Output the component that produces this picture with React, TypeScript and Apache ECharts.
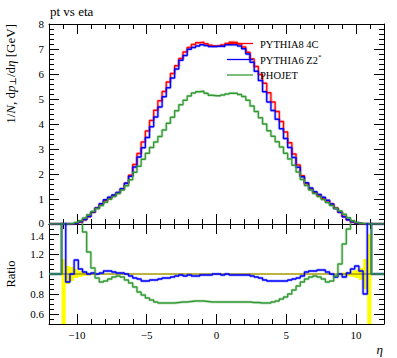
import React, { useEffect, useRef } from "react";
import * as echarts from "echarts";

const FONT = '"Liberation Serif", "DejaVu Serif", serif';

const TITLE = "pt vs eta";
const SERIES_NAMES = ["PYTHIA8 4C", "PYTHIA6 Z2", "PHOJET"];
const COLORS = ["#ff0000", "#0000ff", "#339933"];
const X_MAJOR_TICKS = [-10, -5, 0, 5, 10];
const RATIO_TICKS = [0.6, 0.8, 1, 1.2, 1.4];

// bin edges: outer empty bins, then 0.3 wide bins from -11.1 to 11.1
const BIN_EDGES = [
  -12,
  ...Array.from({ length: 75 }, (_, i) => Math.round((-11.1 + 0.3 * i) * 100) / 100),
  12,
];

const PYTHIA8 = [
  0, 0, 0, 0.01, 0.03, 0.08, 0.17, 0.3, 0.47, 0.64, 0.8, 0.94, 1.04, 1.14, 1.25, 1.4, 1.63, 1.95,
  2.38, 2.82, 3.28, 3.72, 4.14, 4.55, 4.93, 5.3, 5.68, 6.02, 6.33, 6.62, 6.88,
  7.06, 7.18, 7.25, 7.27, 7.21, 7.15, 7.12, 7.13, 7.16, 7.22, 7.27, 7.26, 7.2, 7.08,
  6.87, 6.6, 6.3, 5.98, 5.63, 5.25, 4.88, 4.5, 4.1, 3.68, 3.25, 2.8, 2.36,
  1.93, 1.62, 1.4, 1.25, 1.13, 1.03, 0.93, 0.8, 0.64, 0.47, 0.3, 0.17, 0.08, 0.03, 0.01, 0, 0, 0,
];

const PYTHIA6 = [
  0, 0, 0, 0.01, 0.034, 0.084, 0.173, 0.3, 0.475, 0.64, 0.81, 0.97, 1.07, 1.16, 1.26, 1.41, 1.63, 1.91,
  2.28, 2.68, 3.05, 3.46, 3.89, 4.28, 4.68, 5.09, 5.45, 5.84, 6.2, 6.55, 6.74,
  6.99, 7.06, 7.12, 7.17, 7.14, 7.1, 7.1, 7.12, 7.1, 7.17, 7.18, 7.17, 7.12, 7.01,
  6.8, 6.47, 6.11, 5.74, 5.29, 4.88, 4.54, 4.19, 3.81, 3.42, 3.06, 2.66, 2.27,
  1.89, 1.65, 1.44, 1.29, 1.18, 1.07, 0.95, 0.8, 0.62, 0.47, 0.29, 0.17, 0.084, 0.032, 0.01, 0, 0, 0,
];

const PHOJET = [
  0, 0, 0, 0.02, 0.06, 0.13, 0.24, 0.37, 0.5, 0.62, 0.74, 0.87, 0.99, 1.1, 1.22, 1.36, 1.53, 1.77,
  2.07, 2.31, 2.59, 2.83, 3.06, 3.28, 3.5, 3.76, 4.03, 4.27, 4.53, 4.77, 4.95,
  5.12, 5.24, 5.29, 5.31, 5.23, 5.15, 5.13, 5.13, 5.16, 5.2, 5.23, 5.23, 5.18, 5.1,
  4.95, 4.72, 4.5, 4.25, 4.0, 3.73, 3.51, 3.29, 3.08, 2.83, 2.6, 2.35, 2.08,
  1.78, 1.54, 1.36, 1.22, 1.1, 0.98, 0.86, 0.74, 0.63, 0.52, 0.39, 0.25, 0.13, 0.06, 0.02, 0, 0, 0,
];

const RATIO_PYTHIA6 = [
  1, 1.6, 0.92, 1.0, 1.14, 1.05, 1.02, 1.0, 1.01, 1.0, 1.01, 1.03, 1.03, 1.02, 1.01, 1.01, 1.0, 0.98,
  0.96, 0.95, 0.93, 0.93, 0.94, 0.94, 0.95, 0.96, 0.96, 0.97, 0.98, 0.99, 0.98,
  0.99, 0.98, 0.98, 0.99, 0.99, 0.99, 1.0, 1.0, 0.99, 1.0, 0.99, 0.99, 0.99, 0.99,
  0.99, 0.98, 0.97, 0.96, 0.94, 0.93, 0.93, 0.93, 0.93, 0.93, 0.94, 0.95, 0.96,
  0.98, 1.02, 1.03, 1.03, 1.04, 1.04, 1.02, 1.0, 0.97, 1.0, 0.97, 1.01, 1.05, 1.08, 1.03, 0.8, 1.6, 1,
];

const RATIO_PHOJET = [
  1, 1.6, 1.6, 1.6, 1.6, 1.6, 1.42, 1.22, 1.06, 0.96, 0.92, 0.93, 0.95, 0.97, 0.98, 0.97, 0.94, 0.91,
  0.87, 0.82, 0.79, 0.76, 0.74, 0.72, 0.71, 0.71, 0.71, 0.71, 0.715, 0.72, 0.72,
  0.725, 0.73, 0.73, 0.73, 0.725, 0.72, 0.72, 0.72, 0.72, 0.72, 0.72, 0.72, 0.72, 0.72,
  0.72, 0.715, 0.715, 0.71, 0.71, 0.71, 0.72, 0.73, 0.75, 0.77, 0.8, 0.84, 0.88,
  0.92, 0.95, 0.97, 0.98, 0.97, 0.95, 0.92, 0.93, 0.98, 1.1, 1.3, 1.45, 1.6, 1.6, 1.6, 1.6, 1.6, 1,
];

// reference uncertainty band in the ratio panel: [eta from, eta to, low, high]
const RATIO_BAND = [
  [-11.1, -10.8, 0.5, 1.15],
  [-10.8, -10.5, 0.9, 1.08],
  [-10.5, -10.2, 0.93, 1.07],
  [-10.2, -9.9, 0.96, 1.05],
  [-9.9, -9.6, 0.97, 1.03],
  [-9.6, -9.3, 0.98, 1.02],
  [-9.3, -9.0, 0.985, 1.015],
  [-9.0, -8.7, 0.99, 1.01],
  [-8.7, 8.7, 0.996, 1.004],
  [8.7, 9.0, 0.99, 1.01],
  [9.0, 9.3, 0.985, 1.015],
  [9.3, 9.6, 0.98, 1.02],
  [9.6, 9.9, 0.97, 1.03],
  [9.9, 10.2, 0.96, 1.04],
  [10.2, 10.5, 0.94, 1.06],
  [10.5, 10.8, 0.85, 1.15],
  [10.8, 11.1, 0.5, 1.4],
];

function steps(vals: number[]) {
  const pts = vals.map((v, i) => [BIN_EDGES[i], v]);
  pts.push([BIN_EDGES[BIN_EDGES.length - 1], vals[vals.length - 1]]);
  return pts;
}

const fmtX = (v: number) => (v < 0 ? "\u2212" + Math.abs(v) : String(v));

function xAx(grid: number, pos: string, long: boolean, line: boolean, labels: boolean) {
  return {
    type: "value",
    gridIndex: grid,
    position: pos,
    min: -12,
    max: 12,
    ...(long ? {} : { interval: 1 }),
    axisLine: { show: line, onZero: false, lineStyle: { color: "#000", width: 1 } },
    axisTick: long
      ? { show: true, inside: true, length: 10, customValues: X_MAJOR_TICKS, lineStyle: { color: "#000", width: 1 } }
      : { show: true, inside: true, length: 5, lineStyle: { color: "#000", width: 1 } },
    axisLabel: labels
      ? { show: true, customValues: X_MAJOR_TICKS, formatter: fmtX, color: "#000", fontSize: 11, fontFamily: FONT, margin: 6, lineHeight: 10 }
      : { show: false },
    splitLine: { show: false },
  };
}

function yMain(pos: string, labels: boolean) {
  return {
    type: "value",
    gridIndex: 0,
    position: pos,
    min: 0,
    max: 8,
    interval: 1,
    axisLine: { show: true, onZero: false, lineStyle: { color: "#000", width: 1 } },
    axisTick: { show: true, inside: true, length: 10, lineStyle: { color: "#000", width: 1 } },
    minorTick: { show: true, splitNumber: 5, length: 5, lineStyle: { color: "#000", width: 1 } },
    axisLabel: labels
      ? {
          show: true,
          color: "#000",
          fontSize: 11,
          fontFamily: FONT,
          margin: 5,
          lineHeight: 9,
          showMinLabel: true,
          showMaxLabel: true,
          formatter: (v: number) => (v === 0 ? "{z|0}" : String(v)),
          rich: { z: { fontSize: 11, fontFamily: FONT, color: "#000", lineHeight: 9, padding: [0, 0, 3, 0] } },
        }
      : { show: false },
    splitLine: { show: false },
    minorSplitLine: { show: false },
  };
}

function yRatio(pos: string, long: boolean, labels: boolean) {
  return {
    type: "value",
    gridIndex: 1,
    position: pos,
    min: 0.5,
    max: 1.5,
    ...(long ? {} : { interval: 0.05 }),
    axisLine: { show: !long, onZero: false, lineStyle: { color: "#000", width: 1 } },
    axisTick: long
      ? { show: true, inside: true, length: 10, customValues: RATIO_TICKS, lineStyle: { color: "#000", width: 1 } }
      : { show: true, inside: true, length: 5, lineStyle: { color: "#000", width: 1 } },
    axisLabel: labels
      ? {
          show: true,
          customValues: RATIO_TICKS,
          formatter: (v: number) => (v === 1.4 ? "{t|1.4}" : String(v)),
          rich: { t: { fontSize: 11, fontFamily: FONT, color: "#000", lineHeight: 9, padding: [3, 0, 0, 0] } },
          color: "#000",
          fontSize: 11,
          fontFamily: FONT,
          margin: 5,
          lineHeight: 9,
        }
      : { show: false },
    splitLine: { show: false },
  };
}

function stepLine(name: string, vals: number[], color: string, xi: number, yi: number, band: boolean) {
  return {
    type: "line",
    name,
    xAxisIndex: xi,
    yAxisIndex: yi,
    data: steps(vals),
    step: "end",
    symbol: "none",
    showSymbol: false,
    silent: true,
    clip: true,
    lineStyle: band ? { color, width: 3, opacity: 0.25 } : { color, width: 1.3 },
    z: band ? 2 : 3,
  };
}

export default function App() {
  const ref = useRef<HTMLDivElement>(null);

  useEffect(() => {
    document.body.style.margin = "0";
    if (!ref.current) return;
    const chart = echarts.init(ref.current, undefined, { renderer: "svg" });

    const mainSeries: any[] = [];
    [PYTHIA8, PYTHIA6, PHOJET].forEach((vals, i) => {
      mainSeries.push(stepLine(SERIES_NAMES[i] + " band", vals, COLORS[i], 0, 0, true));
      mainSeries.push(stepLine(SERIES_NAMES[i], vals, COLORS[i], 0, 0, false));
    });

    const ratioSeries: any[] = [
      {
        type: "custom",
        xAxisIndex: 4,
        yAxisIndex: 2,
        data: RATIO_BAND,
        silent: true,
        z: 1,
        renderItem: (params: any, api: any) => {
          const a = api.coord([api.value(0), api.value(3)]);
          const b = api.coord([api.value(1), api.value(2)]);
          return {
            type: "rect",
            shape: { x: a[0], y: a[1], width: b[0] - a[0], height: b[1] - a[1] },
            style: { fill: "#ffff00" },
          };
        },
      },
      {
        type: "line",
        xAxisIndex: 4,
        yAxisIndex: 2,
        data: [[-12, 1], [12, 1]],
        symbol: "none",
        silent: true,
        lineStyle: { color: "#7a6a00", width: 1 },
        z: 2,
      },
      stepLine("r6 band", RATIO_PYTHIA6, COLORS[1], 4, 2, true),
      stepLine("r6", RATIO_PYTHIA6, COLORS[1], 4, 2, false),
      stepLine("rp band", RATIO_PHOJET, COLORS[2], 4, 2, true),
      stepLine("rp", RATIO_PHOJET, COLORS[2], 4, 2, false),
    ];

    const legendY = [43.5, 59.5, 75];
    const legendGraphics: any[] = [];
    SERIES_NAMES.forEach((n, i) => {
      legendGraphics.push({
        type: "line",
        shape: { x1: 227, y1: legendY[i], x2: 253, y2: legendY[i] },
        style: { stroke: COLORS[i], lineWidth: 1.3 },
        z: 10,
      });
      legendGraphics.push({
        type: "text",
        x: 260,
        y: legendY[i] + 0.5,
        z: 10,
        style: {
          text: i === 1 ? "{n|" + n + "}{s|*}" : n,
          rich: {
            n: { fontSize: 10.5, fontFamily: FONT, fill: "#000" },
            s: { fontSize: 7, fontFamily: FONT, fill: "#000", verticalAlign: "top", padding: [0, 0, 6, 0] },
          },
          fontSize: 10.5,
          fontFamily: FONT,
          fill: "#000",
          verticalAlign: "middle",
          align: "left",
        },
      });
    });

    const option: any = {
      animation: false,
      backgroundColor: "#fff",
      textStyle: { fontFamily: FONT },
      grid: [
        { left: 49, top: 24, width: 335, height: 200 },
        { left: 49, top: 224, width: 335, height: 100 },
      ],
      xAxis: [
        xAx(0, "bottom", false, true, false),
        xAx(0, "bottom", true, false, false),
        xAx(0, "top", false, true, false),
        xAx(0, "top", true, false, false),
        xAx(1, "bottom", false, true, false),
        xAx(1, "bottom", true, false, true),
        xAx(1, "top", false, true, false),
        xAx(1, "top", true, false, false),
      ],
      yAxis: [
        yMain("left", true),
        yMain("right", false),
        yRatio("left", false, false),
        yRatio("left", true, true),
        yRatio("right", false, false),
        yRatio("right", true, false),
      ],
      series: [...mainSeries, ...ratioSeries],
      graphic: [
        {
          type: "text",
          x: 50,
          y: 11,
          style: { text: TITLE, fontSize: 13, fontFamily: FONT, fill: "#000", verticalAlign: "middle" },
        },
        {
          type: "text",
          x: 10,
          y: 24,
          rotation: Math.PI / 2,
          style: {
            text: "{a|1/}{b|N}{a|, d}{b|p}{c|\u22a5}{a|/d}{b|\u03b7}{a| [GeV]}",
            rich: {
              a: { fontSize: 13, fontFamily: FONT, fill: "#000" },
              b: { fontSize: 13, fontFamily: FONT, fontStyle: "italic", fill: "#000" },
              c: { fontSize: 9, fontFamily: FONT, fill: "#000", verticalAlign: "bottom", padding: [5, 0, 0, 0] },
            },
            align: "right",
            verticalAlign: "middle",
          },
        },
        {
          type: "text",
          x: 11,
          y: 274,
          rotation: Math.PI / 2,
          style: { text: "Ratio", fontSize: 12.5, fontFamily: FONT, fill: "#000", align: "center", verticalAlign: "middle" },
        },
        {
          type: "text",
          x: 383,
          y: 349,
          style: { text: "\u03b7", fontSize: 13, fontStyle: "italic", fontFamily: FONT, fill: "#000", align: "right", verticalAlign: "middle" },
        },
        ...legendGraphics,
      ],
    };

    chart.setOption(option);
    return () => chart.dispose();
  }, []);

  return <div ref={ref} style={{ width: 397, height: 358, position: "absolute", left: 0, top: 0 }} />;
}
